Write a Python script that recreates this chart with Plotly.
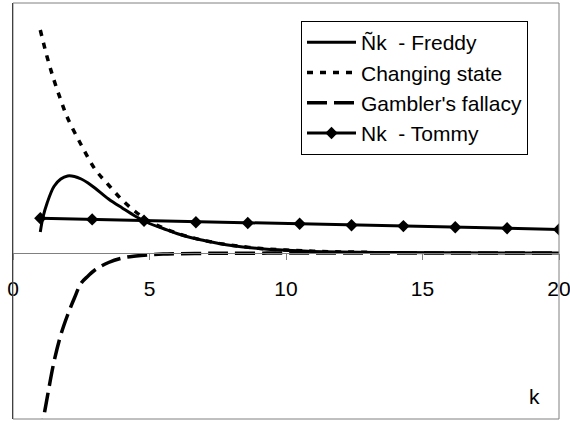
import plotly.graph_objects as go

# ---- data ----
k_freddy = [1, 1.1, 1.25, 1.5, 1.75, 2, 2.25, 2.5, 2.75, 3, 3.5, 4, 4.5, 5, 5.5,
            6, 6.5, 7, 7.5, 8, 9, 10, 11, 12, 14, 16, 18, 20]
freddy = [0.21, 0.36, 0.50, 0.665, 0.74, 0.77, 0.765, 0.74, 0.70, 0.65, 0.54, 0.45,
          0.365, 0.295, 0.245, 0.195, 0.155, 0.125, 0.098, 0.075, 0.045, 0.027,
          0.016, 0.010, 0.004, 0.002, 0.001, 0.0]

k_change = [1, 1.25, 1.5, 1.75, 2, 2.5, 3, 3.5, 4, 4.5, 5, 5.5, 6, 6.5, 7, 7.5, 8,
            9, 10, 11, 12, 13]
change = [2.23, 1.96, 1.73, 1.53, 1.35, 1.08, 0.84, 0.68, 0.53, 0.41, 0.315, 0.25,
          0.20, 0.158, 0.125, 0.098, 0.077, 0.047, 0.029, 0.018, 0.011, 0.007]

k_gambler = [1, 1.12, 1.25, 1.5, 1.75, 2, 2.25, 2.5, 2.75, 3, 3.5, 4, 4.5, 5, 5.5,
             6, 7, 8, 10, 12, 15, 20]
gambler = [-1.86, -1.65, -1.45, -1.09, -0.82, -0.62, -0.45, -0.30, -0.23, -0.17,
           -0.095, -0.05, -0.03, -0.018, -0.011, -0.007, -0.004, -0.002, -0.001,
           0.0, 0.0, 0.0]

k_tommy = [1, 2.9, 4.8, 6.7, 8.6, 10.5, 12.4, 14.3, 16.2, 18.1, 20]
tommy = [0.347, 0.336, 0.323, 0.308, 0.300, 0.292, 0.278, 0.269, 0.258, 0.247, 0.236]

x_ticks = [0, 5, 10, 15, 20]
x_tick_labels = ["0", "5", "10", "15", "20"]

names = ["Ñk\u00a0\u00a0- Freddy", "Changing state", "Gambler's fallacy",
         "Nk\u00a0\u00a0- Tommy"]

x_range = [0, 20]
y_range = [-1.66, 2.50]

FONT = "Liberation Sans, Arial, sans-serif"

fig = go.Figure()
fig.add_trace(go.Scatter(x=k_freddy, y=freddy, mode="lines", name=names[0],
                         line=dict(color="black", width=3, shape="spline")))
fig.add_trace(go.Scatter(x=k_change, y=change, mode="lines", name=names[1],
                         line=dict(color="black", width=3.5, dash="6px,7px",
                                   shape="spline")))
fig.add_trace(go.Scatter(x=k_gambler, y=gambler, mode="lines", name=names[2],
                         line=dict(color="black", width=3.5, dash="20px,7px",
                                   shape="spline")))
fig.add_trace(go.Scatter(x=k_tommy, y=tommy, mode="lines+markers", name=names[3],
                         line=dict(color="black", width=3),
                         marker=dict(symbol="diamond", size=9.5, color="black")))

zero_pos = -y_range[0] / (y_range[1] - y_range[0])

fig.update_layout(
    width=570, height=423,
    margin=dict(l=13, r=11, t=3, b=4),
    paper_bgcolor="white", plot_bgcolor="white",
    font=dict(family=FONT, size=21, color="black"),
    showlegend=True,
    legend=dict(x=(301 - 13) / 546, y=1 - (21 - 3) / 416, xanchor="left",
                yanchor="top", bordercolor="black", borderwidth=1,
                bgcolor="white", font=dict(family=FONT, size=21, color="black"),
                itemwidth=49, tracegroupgap=0, entrywidth=235,
                entrywidthmode="pixels"),
    xaxis=dict(range=x_range, anchor="free", position=zero_pos,
               showline=True, linecolor="#808080", linewidth=1,
               ticks="outside", ticklen=6, tickcolor="#808080", tickwidth=1,
               tickvals=x_ticks, ticktext=x_tick_labels,
               ticklabelstandoff=11, ticklabeloverflow="allow",
               showgrid=False, zeroline=False, automargin=False,
               tickfont=dict(family=FONT, size=21, color="black")),
    yaxis=dict(range=y_range, showline=True, linecolor="black", linewidth=1,
               ticks="", showticklabels=False, showgrid=False, zeroline=False,
               automargin=False),
    shapes=[dict(type="rect", xref="paper", yref="paper", x0=0, y0=0, x1=1, y1=1,
                 line=dict(color="#808080", width=1), layer="above")],
    annotations=[dict(text="k", xref="paper", yref="paper",
                      x=(534 - 13) / 546, y=(419 - 396) / 416,
                      xanchor="center", yanchor="middle", showarrow=False,
                      font=dict(family=FONT, size=21, color="black"))],
)

fig.write_html(
    "out.html",
    config={"displayModeBar": False},
    post_script="document.body.style.margin='0';document.body.style.overflow='hidden';",
)
